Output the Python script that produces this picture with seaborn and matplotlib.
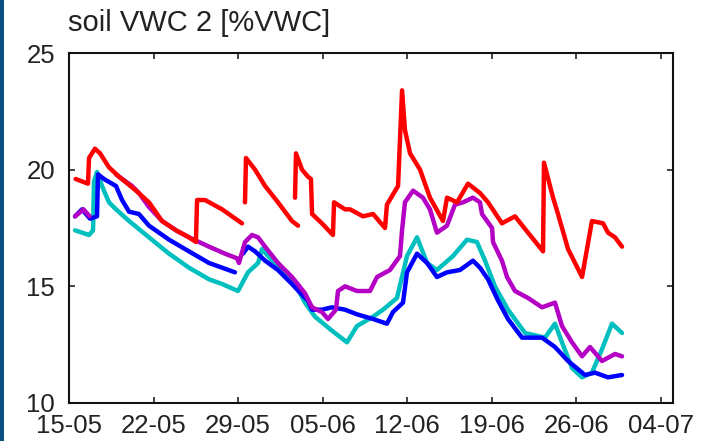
import numpy as np
import pandas as pd
import matplotlib
matplotlib.use("Agg")
import matplotlib.pyplot as plt
from matplotlib.patches import Rectangle
import seaborn as sns

# ---- data: days since 15-05, soil VWC values (NaN = gap) ----
red_day = [0.55, 1.57, 1.66, 2.15, 2.57, 3.31, 4.14, 5.55, 6.62, 7.70, 8.86, 9.93, 10.51, 10.6, 11.26, 12.67, 14.32, np.nan,
           14.57, 14.65, 15.40, 16.23, 17.30, 18.46, 18.96, np.nan,
           18.71, 18.79, 19.29, 19.78, 20.03, 20.12, 20.94, 21.85, 21.94, 22.85, 23.26, 24.34, 25.17, 26.16, 26.32,
           27.24, 27.40, 27.57, 27.81, 28.23, 29.06, 29.88, 30.96, 31.29, 32.12, 33.03, 34.02, 34.69, 35.84, 36.92,
           38.0, 39.24, 39.32, 40.07, 40.48, 41.31, 42.47, 43.29, 44.21, 44.62, 45.2, 45.78]
red_val = [19.6, 19.4, 20.5, 20.9, 20.7, 20.1, 19.7, 19.1, 18.6, 17.8, 17.4, 17.1, 16.9, 18.7, 18.7, 18.3, 17.7, np.nan,
           18.6, 20.5, 20.0, 19.3, 18.6, 17.8, 17.6, np.nan,
           18.8, 20.7, 20.0, 19.7, 19.6, 18.1, 17.7, 17.2, 18.6, 18.3, 18.3, 18.0, 18.1, 17.5, 18.5,
           19.3, 21.3, 23.4, 21.7, 20.7, 20.0, 18.8, 17.8, 18.8, 18.6, 19.4, 19.0, 18.6, 17.7, 18.0,
           17.3, 16.5, 20.3, 18.8, 18.1, 16.6, 15.4, 17.8, 17.7, 17.3, 17.1, 16.7]

magenta_day = [0.5, 1.2, 1.7, np.nan,
               3.89, 4.14, 5.22, 5.79, 6.62, 7.70, 8.86, 9.93, 10.76, 11.59, 12.91, 13.91, 14.07, 14.57, 15.15,
               15.65, 16.23, 17.30, 18.46, 19.54, 20.12, 20.94, 21.44, 22.1, 22.27, 22.85, 23.84, 24.92, 25.5,
               26.57, 27.4, 27.57, 27.81, 28.48, 29.3, 29.88, 30.46, 31.29, 31.95, 32.62, 33.44, 34.02, 34.19,
               35.02, 35.1, 35.84, 36.26, 36.92, 38.0, 39.16, 40.23, 40.81, 41.64, 42.47, 43.13, 44.12, 45.2, 45.78]
magenta_val = [18.0, 18.3, 18.0, np.nan,
               19.8, 19.7, 19.3, 19.0, 18.4, 17.8, 17.4, 17.1, 16.9, 16.7, 16.4, 16.2, 16.0, 16.9, 17.2,
               17.1, 16.7, 16.0, 15.4, 14.7, 14.1, 13.9, 13.6, 14.0, 14.8, 15.0, 14.8, 14.8, 15.4,
               15.7, 16.3, 17.4, 18.6, 19.1, 18.8, 18.3, 17.3, 17.6, 18.5, 18.6, 18.8, 18.6, 18.1,
               17.5, 16.9, 16.1, 15.4, 14.8, 14.5, 14.1, 14.3, 13.3, 12.6, 12.0, 12.4, 11.8, 12.1, 12.0]

blue_day = [0.5, 1.08, 1.74, 2.32, 2.4, 2.9, 3.89, 4.39, 4.97, 5.79, 6.62, 8.28, 9.93, 11.59, 12.67, 13.74, np.nan,
            14.4, 14.82, 15.4, 16.23, 17.3, 18.46, 19.54, 19.78, 20.12, 20.94, 21.77, 22.85, 23.84, 25.17, 26.32,
            26.82, 27.65, 27.98, 28.81, 29.64, 30.46, 31.29, 32.37, 33.44, 34.02, 34.69, 35.51, 36.34, 37.5,
            39.16, 40.23, 41.31, 42.72, 43.54, 44.62, 45.78]
blue_val = [18.0, 18.3, 17.9, 18.0, 19.8, 19.6, 19.3, 18.7, 18.2, 18.1, 17.6, 17.0, 16.5, 16.0, 15.8, 15.6, np.nan,
            16.4, 16.7, 16.5, 16.1, 15.7, 15.1, 14.5, 14.4, 14.0, 14.0, 14.1, 14.0, 13.8, 13.6, 13.4,
            13.9, 14.3, 15.6, 16.4, 16.0, 15.4, 15.6, 15.7, 16.1, 15.8, 15.3, 14.4, 13.6, 12.8,
            12.8, 12.4, 11.8, 11.2, 11.3, 11.1, 11.2]

cyan_day = [0.5, 1.08, 1.66, 1.99, 2.07, 2.32, 2.81, 3.31, 3.89, 4.97, 6.62, 8.28, 9.93, 11.59, 12.67, 13.99,
            14.82, 15.65, 15.98, 16.47, 17.63, 18.71, 19.54, 20.36, 21.77, 23.01, 23.84, 25.17, 26.0, 27.15,
            27.98, 28.81, 29.64, 30.46, 31.79, 32.95, 33.77, 34.44, 35.26, 36.34, 37.75, 39.4, 40.23, 40.81,
            41.64, 42.47, 43.29, 44.12, 44.95, 45.78]
cyan_val = [17.4, 17.3, 17.2, 17.4, 19.5, 19.9, 19.2, 18.6, 18.3, 17.8, 17.1, 16.4, 15.8, 15.3, 15.1, 14.8,
            15.6, 16.0, 16.6, 16.3, 15.7, 15.1, 14.3, 13.7, 13.1, 12.6, 13.3, 13.7, 14.0, 14.5,
            16.3, 17.1, 16.0, 15.7, 16.3, 17.0, 16.9, 16.1, 15.0, 14.0, 13.0, 12.8, 13.4, 12.6,
            11.5, 11.1, 11.3, 12.3, 13.4, 13.0]

tick_labels = ["15-05", "22-05", "29-05", "05-06", "12-06", "19-06", "26-06", "04-07"]
y_ticks = [10, 15, 20, 25]
title = "soil VWC 2 [%VWC]"

series = [("cyan", cyan_day, cyan_val, "#00bfbf"),
          ("blue", blue_day, blue_val, "#0000ff"),
          ("magenta", magenta_day, magenta_val, "#b400c4"),
          ("red", red_day, red_val, "#ff0000")]

base = pd.Timestamp("2000-05-15")

sns.set_style("ticks")
plt.rcParams["font.family"] = ["Liberation Sans", "DejaVu Sans"]

fig = plt.figure(figsize=(7.25, 4.41), dpi=100)
ax = fig.add_axes([69 / 725, 1 - 403 / 441, (673 - 69) / 725, (403 - 53) / 441])

for name, days, vals, col in series:
    df = pd.DataFrame({"day": days, "val": vals})
    df["seg"] = df["day"].isna().cumsum()
    df = df.dropna()
    df["date"] = base + pd.to_timedelta(df["day"], unit="D")
    for s, d in df.groupby("seg"):
        sns.lineplot(data=d, x="date", y="val", ax=ax, color=col, lw=3.2,
                     sort=False, estimator=None, legend=False)

ticks = [base + pd.Timedelta(days=7 * i) for i in range(len(tick_labels))]
ax.set_xlim(base, base + pd.Timedelta(days=50))
ax.set_xticks(ticks)
ax.set_xticklabels(tick_labels)
ax.set_ylim(10, 25)
ax.set_yticks(y_ticks)
ax.set_xlabel("")
ax.set_ylabel("")
ax.tick_params(direction="in", length=4, width=1.2, top=True, right=True,
               labelsize=18.5, colors="#222222", labelcolor="#222222")
ax.tick_params(axis="x", pad=8)
ax.tick_params(axis="y", pad=10)
for sp in ax.spines.values():
    sp.set_visible(True)
    sp.set_linewidth(1.5)
    sp.set_color("#111111")

fig.text(68 / 725, 1 - 31 / 441, title, fontsize=21, color="#222222", va="baseline", ha="left")
fig.patches.append(Rectangle((0, 0), 4 / 725, 1, transform=fig.transFigure,
                             facecolor="#0a5080", edgecolor="none"))

fig.savefig("out.png", dpi=100)
